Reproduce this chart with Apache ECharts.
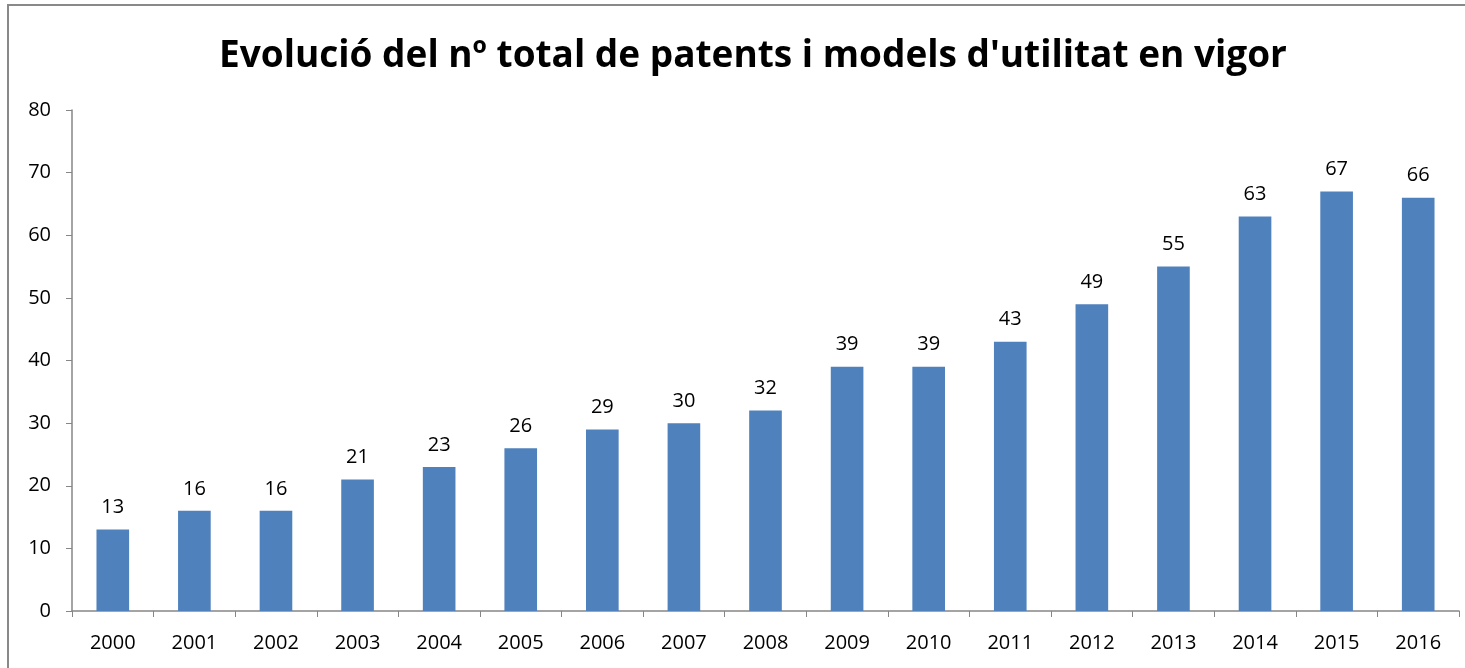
<!DOCTYPE html>
<html>
<head>
<meta charset="utf-8">
<script src="https://cdn.jsdelivr.net/npm/echarts@6/dist/echarts.min.js"></script>
<style>
  html, body { margin: 0; padding: 0; background: #fff; }
  .echarts { width: 1465px; height: 668px; }
</style>
</head>
<body>
<div class="echarts"></div>
<script>
// dades del gràfic
var years = ['2000', '2001', '2002', '2003', '2004', '2005', '2006', '2007', '2008',
    '2009', '2010', '2011', '2012', '2013', '2014', '2015', '2016'];
var totals = [13, 16, 16, 21, 23, 26, 29, 30, 32, 39, 39, 43, 49, 55, 63, 67, 66];
var titleText = "Evolució del nº total de patents i models d'utilitat en vigor";

function myecharts() {
    var myChart = echarts.init(document.querySelector('.echarts'));
    var font = 'Open Sans, Liberation Sans, sans-serif';
    var option = {
        animation: false,
        color: ['#4F81BD'],
        title: {
            text: titleText,
            left: 214,
            top: 33,
            textStyle: {
                fontFamily: font,
                fontSize: 37,
                fontWeight: 'bold',
                color: '#000'
            }
        },
        graphic: [{
            type: 'rect',
            shape: { x: 8, y: 5, width: 1480, height: 700 },
            style: { fill: 'none', stroke: '#898989', lineWidth: 2 },
            silent: true
        }],
        grid: {
            top: 110,
            left: 72,
            right: 6,
            bottom: 57
        },
        xAxis: {
            type: 'category',
            data: years,
            axisLine: { lineStyle: { color: '#868686', width: 1.5 } },
            axisTick: { show: true, length: 6, alignWithLabel: false, lineStyle: { color: '#868686' } },
            axisLabel: { color: '#000', fontSize: 20, fontFamily: font, margin: 22 }
        },
        yAxis: {
            type: 'value',
            min: 0,
            max: 80,
            interval: 10,
            axisLine: { show: true, lineStyle: { color: '#868686', width: 1.5 } },
            axisTick: { show: true, length: 6, lineStyle: { color: '#868686' } },
            splitLine: { show: false },
            axisLabel: { color: '#000', fontSize: 20, fontFamily: font, margin: 21 }
        },
        series: [{
            type: 'bar',
            data: totals,
            barWidth: '40%',
            label: {
                show: true,
                position: 'top',
                distance: 12,
                color: '#000',
                fontSize: 20,
                fontFamily: font
            }
        }]
    };
    myChart.setOption(option);
}
myecharts();
</script>
</body>
</html>
